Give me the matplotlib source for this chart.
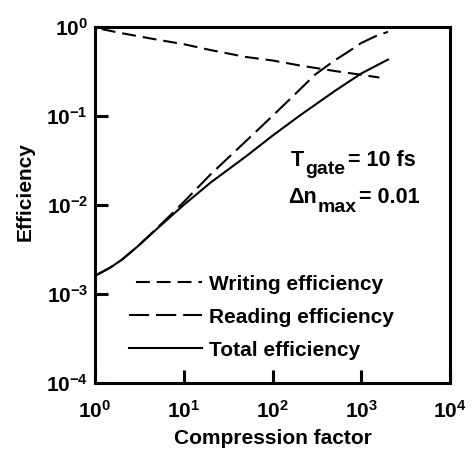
import matplotlib
matplotlib.use('Agg')
from matplotlib import pyplot as plt

# Fonts: bold Arial-like everywhere, also inside the math tick labels
plt.rcParams['font.family'] = 'Liberation Sans'
plt.rcParams['font.weight'] = 'bold'
plt.rcParams['mathtext.fontset'] = 'custom'
plt.rcParams['mathtext.rm'] = 'Liberation Sans:bold'
plt.rcParams['mathtext.it'] = 'Liberation Sans:bold'
plt.rcParams['mathtext.bf'] = 'Liberation Sans:bold'
plt.rcParams['lines.scale_dashes'] = False

# Data
writing_x = [1, 2, 5, 10, 20, 50, 100, 200, 500, 1000, 1600]
writing_eff = [0.98, 0.85, 0.72, 0.64, 0.55, 0.46, 0.42, 0.37, 0.32, 0.29, 0.27]

reading_x = [1, 1.5, 2, 3, 4, 5, 7, 10, 20, 50, 100, 200, 300, 500, 700,
             1000, 1500, 2000]
reading_eff = [1.6e-3, 1.99e-3, 2.42e-3, 3.4e-3, 4.45e-3, 5.5e-3, 7.6e-3,
               0.0108, 0.022, 0.052, 0.10, 0.195, 0.29, 0.42, 0.52, 0.66,
               0.80, 0.88]

total_x = [1, 1.5, 2, 3, 4, 5, 7, 10, 20, 50, 100, 200, 500, 1000, 2000]
total_eff = [1.6e-3, 1.99e-3, 2.42e-3, 3.4e-3, 4.4e-3, 5.4e-3, 7.3e-3, 0.0100,
             0.0178, 0.035, 0.060, 0.100, 0.19, 0.30, 0.43]

xticks = [1, 10, 100, 1000, 10000]
xtick_labels = [r'$10^{0}$', r'$10^{1}$', r'$10^{2}$', r'$10^{3}$', r'$10^{4}$']
yticks = [1e-4, 1e-3, 1e-2, 1e-1, 1]
ytick_labels = [r'$10^{-4}$', r'$10^{-3}$', r'$10^{-2}$', r'$10^{-1}$', r'$10^{0}$']

# Plot data
fig = plt.figure(figsize=(4.74, 4.49), dpi=100)
ax = fig.add_axes([0.2004, 0.147, 0.749, 0.793])

ax.plot(writing_x, writing_eff, c='black', lw=1.5, ls=(10, (10, 5)),
        label='Writing efficiency')
ax.plot(reading_x, reading_eff, c='black', lw=1.5, dashes=(14.5, 5),
        label='Reading efficiency')
ax.plot(total_x, total_eff, c='black', lw=1.5, label='Total efficiency')

# Format plot
ax.set_xscale('log')
ax.set_yscale('log')
ax.set_xlim(1, 1e4)
ax.set_ylim(1e-4, 1)
ax.set_xticks(xticks)
ax.set_xticklabels(xtick_labels)
ax.set_yticks(yticks)
ax.set_yticklabels(ytick_labels)
ax.minorticks_off()
ax.tick_params(axis='both', which='major', direction='in', length=9.5,
               width=2.2, labelsize=15)
ax.tick_params(axis='x', pad=12)
ax.tick_params(axis='y', pad=5)
for side in ax.spines:
    ax.spines[side].set_linewidth(2.2)

ax.set_xlabel('Compression factor', fontsize=15, fontweight='bold', labelpad=5)
ax.set_ylabel('Efficiency', fontsize=15, fontweight='bold')
ax.yaxis.set_label_coords(-0.17, 0.537)

ax.legend(loc='upper left', bbox_to_anchor=(0.096, 0.304), frameon=False,
          fontsize=15, borderpad=0, borderaxespad=0, handlelength=3.5,
          handletextpad=0.34, labelspacing=0.67)

# Annotation with large subscripts
t1 = ax.text(0.552, 0.61, 'T', transform=ax.transAxes, fontsize=15.5,
             fontweight='bold')
t2 = ax.annotate('gate', xy=(1, 0), xycoords=t1, xytext=(0.5, -5),
                 textcoords='offset points', fontsize=14, fontweight='bold',
                 va='bottom')
ax.annotate('= 10 fs', xy=(1, 0), xycoords=t2, xytext=(2, 5),
            textcoords='offset points', fontsize=15.5, fontweight='bold',
            va='bottom')

t3 = ax.text(0.544, 0.506, '\u0394n', transform=ax.transAxes, fontsize=15.5,
             fontweight='bold')
t4 = ax.annotate('max', xy=(1, 0), xycoords=t3, xytext=(0.5, -6),
                 textcoords='offset points', fontsize=14, fontweight='bold',
                 va='bottom')
ax.annotate('= 0.01', xy=(1, 0), xycoords=t4, xytext=(2, 6),
            textcoords='offset points', fontsize=15.5, fontweight='bold',
            va='bottom')

plt.savefig('out.png', dpi=100)
